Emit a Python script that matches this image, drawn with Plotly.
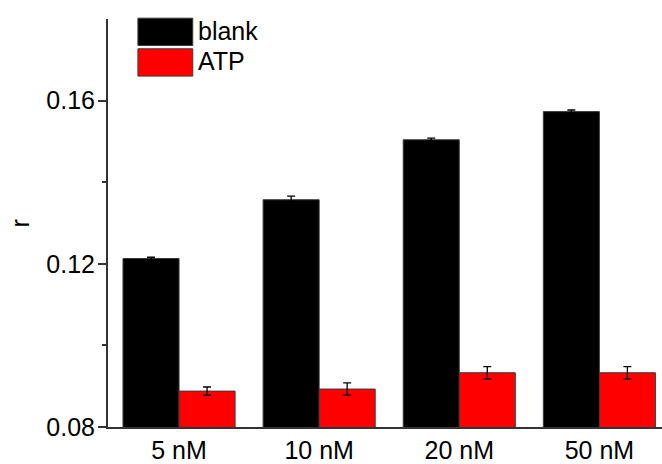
import plotly.graph_objects as go

categories = ["5 nM", "10 nM", "20 nM", "50 nM"]
series_names = ["blank", "ATP"]
blank_values = [0.1213, 0.1357, 0.1504, 0.1573]
blank_errors = [0.0003, 0.0009, 0.0004, 0.0004]
atp_values = [0.0888, 0.0893, 0.0933, 0.0933]
atp_errors = [0.0010, 0.0015, 0.0015, 0.0015]
y_ticks = [0.08, 0.12, 0.16]
y_title = "r"
colors = ["#000000", "#ff0000"]

FONT = "Liberation Sans, Arial, sans-serif"

fig = go.Figure()
for name, vals, errs, col in zip(series_names, [blank_values, atp_values],
                                  [blank_errors, atp_errors], colors):
    fig.add_trace(go.Bar(
        x=categories, y=vals, name=name,
        marker=dict(color=col, line=dict(color="#3a3a3a", width=1)),
        error_y=dict(type="data", array=errs, visible=True,
                     color="#000000", thickness=1.3, width=4),
        showlegend=False,
    ))

# manual legend with large boxes (as in the reference)
for i, (name, col) in enumerate(zip(series_names, colors)):
    y_top = 1.002 - i * 0.075
    fig.add_shape(type="rect", xref="paper", yref="paper",
                  x0=0.054, x1=0.153, y0=y_top - 0.067, y1=y_top,
                  fillcolor=col, line=dict(color="#3a3a3a", width=1))
    fig.add_annotation(text=name, xref="paper", yref="paper",
                       x=0.158, y=y_top - 0.031, xanchor="left", yanchor="middle",
                       showarrow=False, font=dict(size=25, color="black", family=FONT))

# y-axis title
fig.add_annotation(text=y_title, xref="paper", yref="paper", x=-0.158, y=0.5,
                   xanchor="center", yanchor="middle", textangle=-90,
                   showarrow=False, font=dict(size=25, color="black", family=FONT))

fig.update_layout(
    width=662, height=464,
    margin=dict(l=108, r=0, t=19, b=31),
    paper_bgcolor="white", plot_bgcolor="white",
    barmode="group", bargap=0.2, bargroupgap=0.0,
    font=dict(family=FONT, size=25, color="black"),
    xaxis=dict(
        range=[-0.507, 3.447], showline=True, linecolor="#333333", linewidth=2,
        ticks="", showgrid=False, zeroline=False,
        tickfont=dict(size=25, color="black"),
    ),
    yaxis=dict(
        range=[0.08, 0.18], showline=True, linecolor="#333333", linewidth=2,
        tickmode="array", tickvals=y_ticks, ticktext=[f"{v:.2f}" for v in y_ticks],
        ticks="outside", ticklen=8, tickwidth=1.5, tickcolor="#333333",
        ticklabelstandoff=-2,
        minor=dict(tickmode="array", tickvals=[0.10, 0.14], ticks="outside",
                   ticklen=4, tickwidth=1.5, tickcolor="#333333"),
        showgrid=False, zeroline=False,
        tickfont=dict(size=25, color="black"),
    ),
)

fig.write_html("out.html")
